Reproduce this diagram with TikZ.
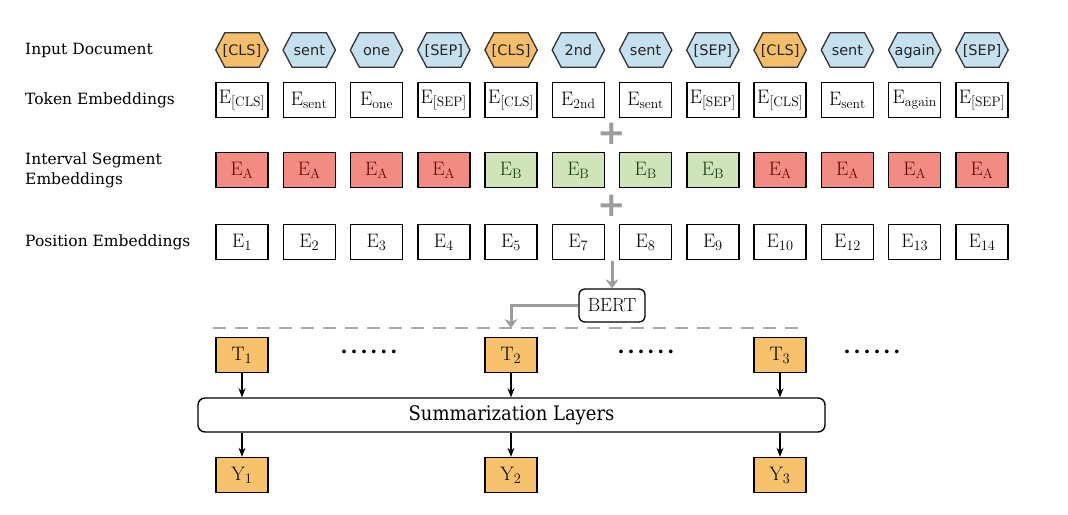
\documentclass[tikz,border=0pt]{standalone}
\usepackage{fontspec}
\usetikzlibrary{arrows.meta,backgrounds}
\newfontfamily\labelfont{DejaVu Serif}
\newfontfamily\hexfont{DejaVu Sans}
\newfontfamily\condfont{DejaVu Serif Condensed}
\definecolor{hexorange}{HTML}{F4BE6B}
\definecolor{hexblue}{HTML}{C5E0EE}
\definecolor{segA}{HTML}{F28C82}
\definecolor{segAtext}{HTML}{600808}
\definecolor{segB}{HTML}{CFE5B9}
\definecolor{segBtext}{HTML}{183C18}
\definecolor{torange}{HTML}{F8C16C}
\definecolor{arrgray}{HTML}{9C9C9C}
\definecolor{dashgray}{HTML}{AAAAAA}
\begin{document}
\begin{tikzpicture}[x=1pt,y=-1pt,
  lbl/.style={anchor=west, font=\labelfont\fontsize{15.5}{20}\selectfont, align=left, inner sep=0pt},
  ebox/.style={draw, line width=1.4pt, minimum width=52pt, minimum height=35pt, inner sep=0pt, font=\fontsize{19.5}{21}\selectfont},
  hexnode/.style={minimum width=52pt, minimum height=34pt, inner sep=0pt, text height=10.5pt, text depth=0.5pt, font=\hexfont\fontsize{14.5}{16}\selectfont, text=black!85},
  hexline/.style={draw=black!80, line width=1.3pt},
  tbox/.style={ebox, fill=torange},
  grayarrow/.style={draw=arrgray, line width=3pt, -{Stealth[length=9pt,width=13pt,inset=3pt]}},
  blackarrow/.style={draw=black, line width=1.1pt, -{Stealth[length=9pt,width=7pt]}},
  plussign/.style={font=\hexfont\bfseries\fontsize{34}{34}\selectfont, text=arrgray, inner sep=0pt},
  dotsnode/.style={font=\labelfont\bfseries\fontsize{20}{20}\selectfont, inner sep=0pt}
]
\useasboundingbox (0,0) rectangle (1068,514);

% left labels
\node[lbl] (l1) at (25,50) {Input Document};
\node[lbl] (l2) at (25,100) {Token Embeddings};
\node[lbl] (l3) at (25,170) {Interval Segment\\Embeddings};
\node[lbl] (l4) at (25,242) {Position Embeddings};

% columns
\foreach \i/\htxt/\hcol/\tsub/\seg/\pos in {
  1/{[CLS]}/hexorange/{[CLS]}/1/1,
  2/sent/hexblue/sent/1/2,
  3/one/hexblue/one/1/3,
  4/{[SEP]}/hexblue/{[SEP]}/1/4,
  5/{[CLS]}/hexorange/{[CLS]}/2/5,
  6/2nd/hexblue/2nd/2/7,
  7/sent/hexblue/sent/2/8,
  8/{[SEP]}/hexblue/{[SEP]}/2/9,
  9/{[CLS]}/hexorange/{[CLS]}/1/10,
  10/sent/hexblue/sent/1/12,
  11/again/hexblue/again/1/13,
  12/{[SEP]}/hexblue/{[SEP]}/1/14}{
  \pgfmathsetmacro{\cx}{242+(\i-1)*67.27}
  \node[hexnode] (h\i) at (\cx,50) {\htxt};
  \begin{pgfonlayer}{background}
    \path[hexline, fill=\hcol] (h\i.west) -- ([xshift=9pt]h\i.north west) -- ([xshift=-9pt]h\i.north east)
      -- (h\i.east) -- ([xshift=-9pt]h\i.south east) -- ([xshift=9pt]h\i.south west) -- cycle;
  \end{pgfonlayer}
  \node[ebox] (t\i) at (\cx,100) {$\mathrm{E}_{\mathrm{\tsub}}$};
  \ifnum\seg=1
    \node[ebox, fill=segA, text=segAtext] (s\i) at (\cx,170) {$\mathrm{E}_{\mathrm{A}}$};
  \else
    \node[ebox, fill=segB, text=segBtext] (s\i) at (\cx,170) {$\mathrm{E}_{\mathrm{B}}$};
  \fi
  \node[ebox] (p\i) at (\cx,242) {$\mathrm{E}_{\pos}$};
}

% plus signs
\node[plussign] (plus1) at (612,134) {+};
\node[plussign] (plus2) at (612,206) {+};

% BERT
\node[draw, line width=1.3pt, rounded corners=6pt, minimum width=66pt, minimum height=33pt, inner sep=0pt,
      font=\fontsize{19}{20}\selectfont] (bert) at (612,305.5) {BERT};
\coordinate (pbot) at (612,261);
\coordinate (tend) at (511,328);
\draw[grayarrow] (pbot) -- (bert.north);
\draw[grayarrow] (bert.west) -| (tend);

% dashed separator
\coordinate (dl) at (213,328);
\coordinate (dr) at (806,328);
\draw[dashgray, line width=1.8pt, dash pattern=on 13pt off 9pt] (dl) -- (dr);

% T boxes
\node[tbox] (T1) at (242,355) {$\mathrm{T}_{1}$};
\node[tbox] (T2) at (511,355) {$\mathrm{T}_{2}$};
\node[tbox] (T3) at (780,355) {$\mathrm{T}_{3}$};
\node[dotsnode] (d1) at (369,352) {\addfontfeature{LetterSpace=15}......};
\node[dotsnode] (d2) at (646,352) {\addfontfeature{LetterSpace=15}......};
\node[dotsnode] (d3) at (872,352) {\addfontfeature{LetterSpace=15}......};

% Summarization layers
\node[draw, line width=1.4pt, rounded corners=7pt, minimum width=627pt, minimum height=34pt, inner sep=0pt,
      font=\condfont\fontsize{20}{22}\selectfont] (sum) at (511.5,415) {Summarization Layers};

% Y boxes
\node[tbox] (Y1) at (242,475) {$\mathrm{Y}_{1}$};
\node[tbox] (Y2) at (511,475) {$\mathrm{Y}_{2}$};
\node[tbox] (Y3) at (780,475) {$\mathrm{Y}_{3}$};

\foreach \k in {1,2,3}{
  \draw[blackarrow] (T\k.south) -- (T\k.south |- sum.north);
  \draw[blackarrow] (Y\k.north |- sum.south) -- (Y\k.north);
}
\end{tikzpicture}
\end{document}
